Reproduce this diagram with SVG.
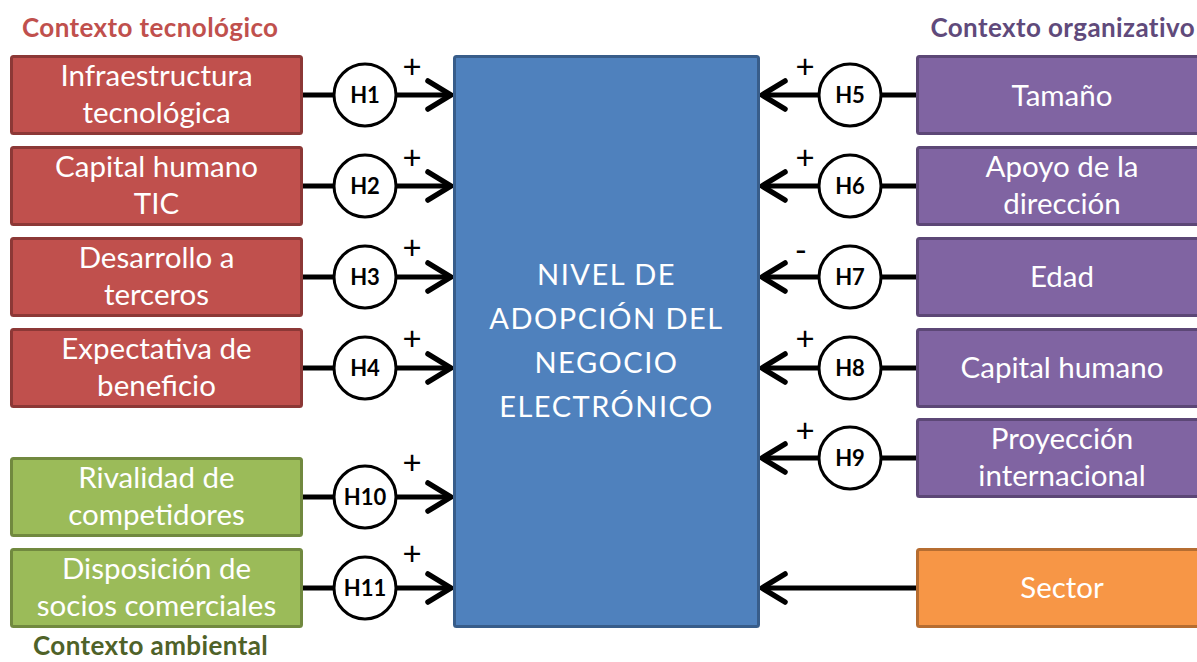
<svg xmlns="http://www.w3.org/2000/svg" width="1197" height="662" viewBox="0 0 1197 662">
  <style>
    .box { stroke-width: 3; }
    .red { fill: #c0504d; stroke: #8c3836; }
    .green { fill: #9bbb59; stroke: #71893f; }
    .purple { fill: #8064a2; stroke: #5c4776; }
    .orange { fill: #f79646; stroke: #b66d31; }
    .blue { fill: #4f81bd; stroke: #385d8a; }
    .lbl { font-family: Lato, "Liberation Sans", sans-serif; font-size: 29.5px; fill: #ffffff; text-anchor: middle; }
    .core { font-family: Lato, "Liberation Sans", sans-serif; font-size: 29px; fill: #ffffff; text-anchor: middle; letter-spacing: 1.5px; }
    .title { font-family: Lato, "Liberation Sans", sans-serif; font-size: 26px; font-weight: bold; letter-spacing: 0.4px; }
    .hyp circle { fill: #ffffff; stroke: #000000; stroke-width: 3; }
    .hyp text { font-family: Lato, "Liberation Sans", sans-serif; font-size: 22px; font-weight: bold; fill: #000000; text-anchor: middle; }
    .sign { font-family: Lato, "Liberation Sans", sans-serif; font-size: 33px; fill: #000000; text-anchor: middle; }
    .link { stroke: #000000; stroke-width: 5; fill: none; marker-end: url(#chev); }
  </style>
  <defs>
    <marker id="chev" markerUnits="userSpaceOnUse" viewBox="0 0 32 34" markerWidth="32" markerHeight="34" refX="28" refY="17" orient="auto" overflow="visible">
      <path d="M5,3 L28,17 L5,31" fill="none" stroke="#000000" stroke-width="5.5" stroke-linecap="round" stroke-linejoin="round"/>
    </marker>
  </defs>

  <!-- group headings -->
  <text class="title" x="22" y="37" fill="#c0504d">Contexto tecnológico</text>
  <text class="title" x="1195" y="37" fill="#604a7b" text-anchor="end">Contexto organizativo</text>
  <text class="title" x="33" y="655" fill="#4f6228">Contexto ambiental</text>

  <!-- connectors -->
  <g id="connectors">
    <path class="link" d="M303,95 H451"/>
    <path class="link" d="M303,186 H451"/>
    <path class="link" d="M303,277 H451"/>
    <path class="link" d="M303,368 H451"/>
    <path class="link" d="M303,497 H451"/>
    <path class="link" d="M303,588 H451"/>
    <path class="link" d="M916,95 H762"/>
    <path class="link" d="M916,186 H762"/>
    <path class="link" d="M916,277 H762"/>
    <path class="link" d="M916,368 H762"/>
    <path class="link" d="M916,458 H762"/>
    <path class="link" d="M916,588 H762"/>
  </g>

  <!-- central construct -->
  <g id="nivel-adopcion">
    <rect class="box blue" x="454.5" y="56.5" width="304" height="570" rx="2"/>
    <text class="core" x="606.5" y="285">NIVEL DE</text>
    <text class="core" x="606.5" y="329">ADOPCIÓN DEL</text>
    <text class="core" x="606.5" y="373">NEGOCIO</text>
    <text class="core" x="606.5" y="417">ELECTRÓNICO</text>
  </g>

  <!-- technological context -->
  <g id="infraestructura">
    <rect class="box red" x="11.5" y="56.5" width="290" height="77" rx="2"/>
    <text class="lbl" x="156.5" y="86">Infraestructura</text>
    <text class="lbl" x="156.5" y="123">tecnológica</text>
  </g>
  <g id="capital-tic">
    <rect class="box red" x="11.5" y="147.5" width="290" height="77" rx="2"/>
    <text class="lbl" x="156.5" y="177">Capital humano</text>
    <text class="lbl" x="156.5" y="214">TIC</text>
  </g>
  <g id="desarrollo">
    <rect class="box red" x="11.5" y="238.5" width="290" height="77" rx="2"/>
    <text class="lbl" x="156.5" y="268">Desarrollo a</text>
    <text class="lbl" x="156.5" y="305">terceros</text>
  </g>
  <g id="expectativa">
    <rect class="box red" x="11.5" y="329.5" width="290" height="77" rx="2"/>
    <text class="lbl" x="156.5" y="359">Expectativa de</text>
    <text class="lbl" x="156.5" y="396">beneficio</text>
  </g>

  <!-- environmental context -->
  <g id="rivalidad">
    <rect class="box green" x="11.5" y="458.5" width="290" height="77" rx="2"/>
    <text class="lbl" x="156.5" y="488">Rivalidad de</text>
    <text class="lbl" x="156.5" y="525">competidores</text>
  </g>
  <g id="socios">
    <rect class="box green" x="11.5" y="549.5" width="290" height="77" rx="2"/>
    <text class="lbl" x="156.5" y="579">Disposición de</text>
    <text class="lbl" x="156.5" y="616">socios comerciales</text>
  </g>

  <!-- organisational context -->
  <g id="tamano">
    <rect class="box purple" x="917.5" y="56.5" width="290" height="77" rx="2"/>
    <text class="lbl" x="1062" y="106">Tamaño</text>
  </g>
  <g id="apoyo">
    <rect class="box purple" x="917.5" y="147.5" width="290" height="77" rx="2"/>
    <text class="lbl" x="1062" y="177">Apoyo de la</text>
    <text class="lbl" x="1062" y="214">dirección</text>
  </g>
  <g id="edad">
    <rect class="box purple" x="917.5" y="238.5" width="290" height="77" rx="2"/>
    <text class="lbl" x="1062" y="287">Edad</text>
  </g>
  <g id="capital-humano">
    <rect class="box purple" x="917.5" y="329.5" width="290" height="77" rx="2"/>
    <text class="lbl" x="1062" y="378">Capital humano</text>
  </g>
  <g id="proyeccion">
    <rect class="box purple" x="917.5" y="419.5" width="290" height="77" rx="2"/>
    <text class="lbl" x="1062" y="449">Proyección</text>
    <text class="lbl" x="1062" y="486">internacional</text>
  </g>
  <g id="sector">
    <rect class="box orange" x="917.5" y="549.5" width="290" height="77" rx="2"/>
    <text class="lbl" x="1062" y="598">Sector</text>
  </g>

  <!-- hypotheses -->
  <g id="h1" class="hyp"><circle cx="365" cy="95" r="31"/><text x="365" y="103">H1</text></g>
  <g id="h2" class="hyp"><circle cx="365" cy="186" r="31"/><text x="365" y="194">H2</text></g>
  <g id="h3" class="hyp"><circle cx="365" cy="277" r="31"/><text x="365" y="285">H3</text></g>
  <g id="h4" class="hyp"><circle cx="365" cy="368" r="31"/><text x="365" y="376">H4</text></g>
  <g id="h10" class="hyp"><circle cx="365" cy="497" r="31"/><text x="365" y="505">H10</text></g>
  <g id="h11" class="hyp"><circle cx="365" cy="588" r="31"/><text x="365" y="596">H11</text></g>
  <g id="h5" class="hyp"><circle cx="850" cy="95" r="31"/><text x="850" y="103">H5</text></g>
  <g id="h6" class="hyp"><circle cx="850" cy="186" r="31"/><text x="850" y="194">H6</text></g>
  <g id="h7" class="hyp"><circle cx="850" cy="277" r="31"/><text x="850" y="285">H7</text></g>
  <g id="h8" class="hyp"><circle cx="850" cy="368" r="31"/><text x="850" y="376">H8</text></g>
  <g id="h9" class="hyp"><circle cx="850" cy="458" r="31"/><text x="850" y="466">H9</text></g>

  <!-- effect signs -->
  <g id="signs">
    <text class="sign" x="412" y="78">+</text>
    <text class="sign" x="412" y="169">+</text>
    <text class="sign" x="412" y="259">+</text>
    <text class="sign" x="412" y="350">+</text>
    <text class="sign" x="412" y="474">+</text>
    <text class="sign" x="412" y="565">+</text>
    <text class="sign" x="805" y="78">+</text>
    <text class="sign" x="805" y="169">+</text>
    <text class="sign" x="801" y="262">-</text>
    <text class="sign" x="805" y="350">+</text>
    <text class="sign" x="805" y="442">+</text>
  </g>
</svg>
